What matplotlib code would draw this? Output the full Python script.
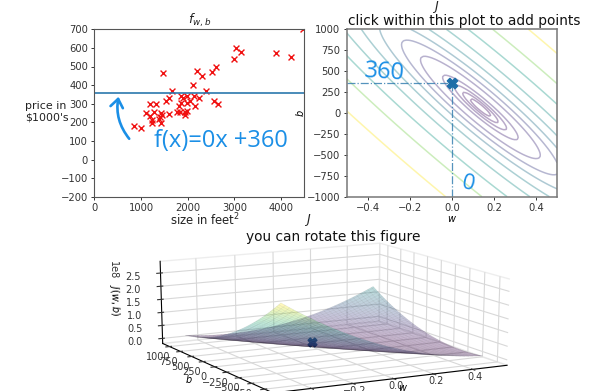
import numpy as np
import matplotlib
matplotlib.use('Agg')
import matplotlib.pyplot as plt

# house data
size_sqft = [857, 1007, 1100, 1200, 1320, 1270, 1193, 1243, 1243, 1378, 1428, 1407, 1428, 1457, 1464,
             1600, 1535, 1600, 1671, 1764, 1835, 1814, 1857, 1850, 1893, 1943, 1943, 1978, 1993, 1993,
             2050, 2143, 2164, 2243, 2107, 2200, 2300, 2400, 2528, 2614, 2571, 2643, 3000, 3043, 3143,
             3893, 4221, 4470]
price_k = [178, 169, 248, 297, 298, 257, 234, 212, 198, 216, 198, 230, 248, 239, 465,
           243, 315, 329, 368, 254, 255, 288, 302, 341, 332, 257, 239, 261, 302, 343,
           315, 341, 286, 329, 399, 474, 449, 368, 469, 499, 313, 300, 540, 598, 580,
           575, 549, 700]
w_now = 0
b_now = 360
x_ticks = [0, 1000, 2000, 3000, 4000]
y_ticks = [-200, -100, 0, 100, 200, 300, 400, 500, 600, 700]
w_ticks = [-0.4, -0.2, 0.0, 0.2, 0.4]
b_ticks = [-1000, -750, -500, -250, 0, 250, 500, 750, 1000]
# half width in w of each contour ring
ring_half_widths = [0.05, 0.085, 0.125, 0.18, 0.285, 0.375, 0.48, 0.62, 0.8, 1.05, 1.35, 1.8]
ring_shades = [0.05, 0.07, 0.09, 0.12, 0.15, 0.2, 0.38, 0.45, 0.5, 0.55, 0.8, 1.0]

BLUE = '#1b8fe6'
LINE = '#2b78ad'
W, H = 593, 391


def px_axes(left, top, right, bottom, **kw):
    return fig.add_axes([left / W, 1 - bottom / H, (right - left) / W, (bottom - top) / H], **kw)


fig = plt.figure(figsize=(5.93, 3.91), dpi=100)
x = np.array(size_sqft)
y = np.array(price_k)

# Left plot
ax1 = px_axes(94.3, 29.3, 304.3, 196.7)
ax1.scatter(x, y, marker='x', c='#f01010', s=18, linewidths=1.0)
ax1.axhline(b_now, color=LINE, lw=1.2)
ax1.set_xlim(0, 4500)
ax1.set_ylim(-200, 700)
ax1.set_xticks(x_ticks)
ax1.set_yticks(y_ticks)
ax1.tick_params(labelsize=7.2, length=2.5, width=0.7, pad=2, colors='#333333')
ax1.set_title('$f_{w,b}$', fontsize=9, pad=3, color='#222222')
for s in ax1.spines.values():
    s.set_color('#555555')
fig.text(25 / W, 1 - 112 / H, "price in\n$1000's", fontsize=7.9, va='center', ha='left', color='#222222', linespacing=1.15)
fig.text(205 / W, 1 - 220 / H, 'size in feet$^2$', fontsize=8.4, va='center', ha='center', color='#222222')
ax1.annotate('', xy=(530, 352), xytext=(786, 100),
             arrowprops=dict(arrowstyle='->,head_width=0.45,head_length=0.6', color=BLUE, lw=1.9,
                             connectionstyle='arc3,rad=-0.25'))
ax1.text(1290, 100, 'f(x)=0x +360', color=BLUE, fontsize=17, family='Open Sans', va='center', ha='left')

# Cost grid computed from the points above
ws = np.linspace(-0.5, 0.5, 100)
bs = np.linspace(-1000, 1000, 100)
W_g, B_g = np.meshgrid(ws, bs)
Z = ((W_g[..., None] * x + B_g[..., None] - y) ** 2).sum(axis=-1)

# contour levels: cost at the tip of each ring, with the best b for that w
slope, intercept = np.polyfit(x, y, 1)
levels = []
for half in ring_half_widths:
    w_tip = slope + half
    b_tip = y.mean() - w_tip * x.mean()
    levels.append(((w_tip * x + b_tip - y) ** 2).sum())

# Contour plot
ax2 = px_axes(346.7, 29.3, 557, 196.7)
ax2.contour(W_g, B_g, Z, levels=levels, colors=plt.cm.viridis(ring_shades), alpha=0.38, linewidths=1.1)
ax2.plot([-0.5, w_now], [b_now, b_now], color=LINE, ls='-.', lw=0.9, alpha=0.8)
ax2.plot([w_now, w_now], [-1000, b_now], color=LINE, ls='-.', lw=0.9, alpha=0.8)
ax2.scatter([w_now], [b_now], marker='X', s=55, color='#1f6fa8', zorder=5)
ax2.set_xlim(-0.5, 0.5)
ax2.set_ylim(-1000, 1000)
ax2.set_xticks(w_ticks)
ax2.set_yticks(b_ticks)
ax2.tick_params(labelsize=7.2, length=2.5, width=0.7, pad=2, colors='#333333')
for s in ax2.spines.values():
    s.set_color('#777777')
    s.set_linewidth(1.1)
ax2.set_xlabel('$w$', fontsize=7, labelpad=1)
ax2.set_ylabel('$b$', fontsize=7, labelpad=1)
fig.text(436 / W, 1 - 7 / H, '$J$', fontsize=9, ha='center', va='center', color='#222222')
fig.text(464 / W, 1 - 21 / H, 'click within this plot to add points', fontsize=9.9, ha='center', va='center', color='#111111')
ax2.text(-0.42, 490, '360', color=BLUE, fontsize=17, rotation=-4, family='Open Sans', va='center', ha='left')
ax2.text(0.04, -850, '0', color=BLUE, fontsize=16, rotation=-12, family='Open Sans', va='center', ha='left')

# 3D surface, runs past the bottom of the figure, stretched to the full axes box
ax3 = px_axes(140, 182, 511, 450, projection='3d')
ax3.apply_aspect = lambda position=None: None
ax3.patch.set_visible(False)
ax3.set_box_aspect((1, 1, 0.47))
ax3.plot_surface(W_g, B_g, Z, cmap='viridis', alpha=0.3, antialiased=True)
ax3.plot_wireframe(W_g, B_g, Z, color='k', alpha=0.08, lw=0.4)
ax3.scatter([w_now], [b_now], [((w_now * x + b_now - y) ** 2).sum()], marker='X', s=40, color='#1f5f90', depthshade=False)
ax3.view_init(elev=15, azim=-118)
ax3.set_xlim(-0.58, 0.58)
ax3.set_ylim(-1160, 1160)
ax3.set_xticks(w_ticks)
ax3.set_yticks(b_ticks)
ax3.tick_params(labelsize=7, pad=-2, colors='#333333')
ax3.tick_params(axis='x', pad=-6)
ax3.tick_params(axis='z', pad=2)
ax3.set_xlabel('$w$', fontsize=7, labelpad=-13)
ax3.set_ylabel('$b$', fontsize=7, labelpad=-8)
ax3.set_zlabel('$J(w,b)$', fontsize=7, labelpad=-4)
for axis in (ax3.xaxis, ax3.yaxis, ax3.zaxis):
    axis.pane.fill = False
    axis.pane.set_edgecolor('#dddddd')
    axis._axinfo['grid']['color'] = '#d8d8d8'
    axis._axinfo['grid']['linewidth'] = 0.8
ax3.zaxis.get_offset_text().set_visible(False)
fig.text(113 / W, 1 - 270 / H, '1e8', fontsize=7, rotation=-90, ha='center', va='center', color='#333333')
fig.text(308 / W, 1 - 220 / H, '$J$', fontsize=9, ha='center', va='center', color='#222222')
fig.text(333 / W, 1 - 237 / H, 'you can rotate this figure', fontsize=9.9, ha='center', va='center', color='#111111')

fig.savefig('out.png', dpi=100)
